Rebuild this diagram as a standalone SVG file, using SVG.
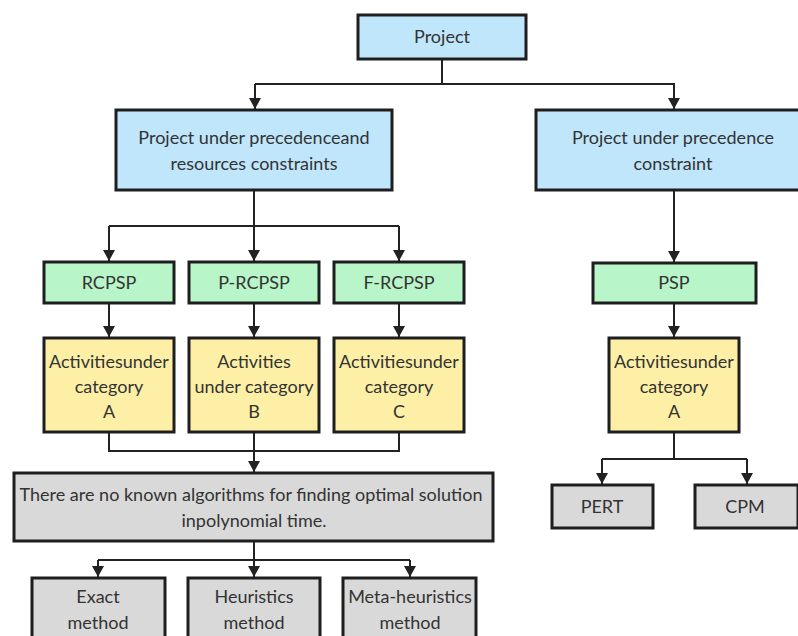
<svg xmlns="http://www.w3.org/2000/svg" width="798" height="636" viewBox="0 0 798 636">
<defs>
<marker id="ah" markerWidth="12" markerHeight="12" refX="11" refY="6" orient="auto" markerUnits="userSpaceOnUse">
<path d="M0,0 L11,6 L0,12 Z" fill="#222"/>
</marker>
<style>
.box{stroke:#1e1e1e;stroke-width:3}
.blue{fill:#c0e6fc}
.green{fill:#b8f5c8}
.yellow{fill:#fdf0a6}
.gray{fill:#d9d9d9}
text{font-family:Lato,"Open Sans","Noto Sans",sans-serif;font-size:18px;fill:#333;text-anchor:middle}
.c{fill:none;stroke:#222;stroke-width:2}
.a{marker-end:url(#ah)}
</style>
</defs>
<rect width="798" height="636" fill="#fff"/>
<g id="connectors">
<path class="c" d="M442,59 V84 M255,84 H675"/>
<path class="c a" d="M255,84 V109"/>
<path class="c a" d="M674,84 V109"/>
<path class="c" d="M254,190 V226 M109,226 H399"/>
<path class="c a" d="M109,226 V261"/>
<path class="c a" d="M254,226 V261"/>
<path class="c a" d="M399,226 V261"/>
<path class="c a" d="M674,190 V262"/>
<path class="c a" d="M109,303 V337"/>
<path class="c a" d="M254,303 V337"/>
<path class="c a" d="M399,303 V337"/>
<path class="c a" d="M674,303 V337"/>
<path class="c" d="M109,432 V451 H399 V432 M254,432 V451"/>
<path class="c a" d="M254,451 V472"/>
<path class="c" d="M254,541 V560 M98,560 H410"/>
<path class="c a" d="M98,560 V577"/>
<path class="c a" d="M254,560 V577"/>
<path class="c a" d="M410,560 V577"/>
<path class="c" d="M674,432 V459 M602,459 H747"/>
<path class="c a" d="M602,459 V484"/>
<path class="c a" d="M747,459 V484"/>
</g>
<g id="project"><rect class="box blue" x="358" y="15" width="168" height="44"/><text x="442" y="43">Project</text></g>
<g id="ppr"><rect class="box blue" x="116" y="110" width="276" height="80"/><text x="254" y="144">Project under precedenceand</text><text x="254" y="170">resources constraints</text></g>
<g id="pp"><rect class="box blue" x="536" y="110" width="276" height="80"/><text x="673" y="144">Project under precedence</text><text x="673" y="170">constraint</text></g>
<g id="rcpsp"><rect class="box green" x="44" y="262" width="130" height="41"/><text x="109" y="289">RCPSP</text></g>
<g id="prcpsp"><rect class="box green" x="189" y="262" width="130" height="41"/><text x="254" y="289">P-RCPSP</text></g>
<g id="frcpsp"><rect class="box green" x="334" y="262" width="130" height="41"/><text x="399" y="289">F-RCPSP</text></g>
<g id="psp"><rect class="box green" x="593" y="263" width="163" height="40"/><text x="674" y="289">PSP</text></g>
<g id="actA"><rect class="box yellow" x="44" y="338" width="130" height="94"/><text x="109" y="368">Activitiesunder</text><text x="109" y="393">category</text><text x="109" y="418">A</text></g>
<g id="actB"><rect class="box yellow" x="189" y="338" width="130" height="94"/><text x="254" y="368">Activities</text><text x="254" y="393">under category</text><text x="254" y="418">B</text></g>
<g id="actC"><rect class="box yellow" x="334" y="338" width="130" height="94"/><text x="399" y="368">Activitiesunder</text><text x="399" y="393">category</text><text x="399" y="418">C</text></g>
<g id="actA2"><rect class="box yellow" x="609" y="338" width="130" height="94"/><text x="674" y="368">Activitiesunder</text><text x="674" y="393">category</text><text x="674" y="418">A</text></g>
<g id="noalg"><rect class="box gray" x="14" y="473" width="479" height="68"/><text x="251" y="501">There are no known algorithms for finding optimal solution</text><text x="254" y="527">inpolynomial time.</text></g>
<g id="pert"><rect class="box gray" x="552" y="485" width="101" height="43"/><text x="602" y="513">PERT</text></g>
<g id="cpm"><rect class="box gray" x="695" y="485" width="103" height="43"/><text x="745" y="513">CPM</text></g>
<g id="exact"><rect class="box gray" x="32" y="578" width="133" height="70"/><text x="98" y="603">Exact</text><text x="98" y="629">method</text></g>
<g id="heur"><rect class="box gray" x="188" y="578" width="132" height="70"/><text x="254" y="603">Heuristics</text><text x="254" y="629">method</text></g>
<g id="meta"><rect class="box gray" x="343" y="578" width="133" height="70"/><text x="410" y="603">Meta-heuristics</text><text x="410" y="629">method</text></g>
</svg>
